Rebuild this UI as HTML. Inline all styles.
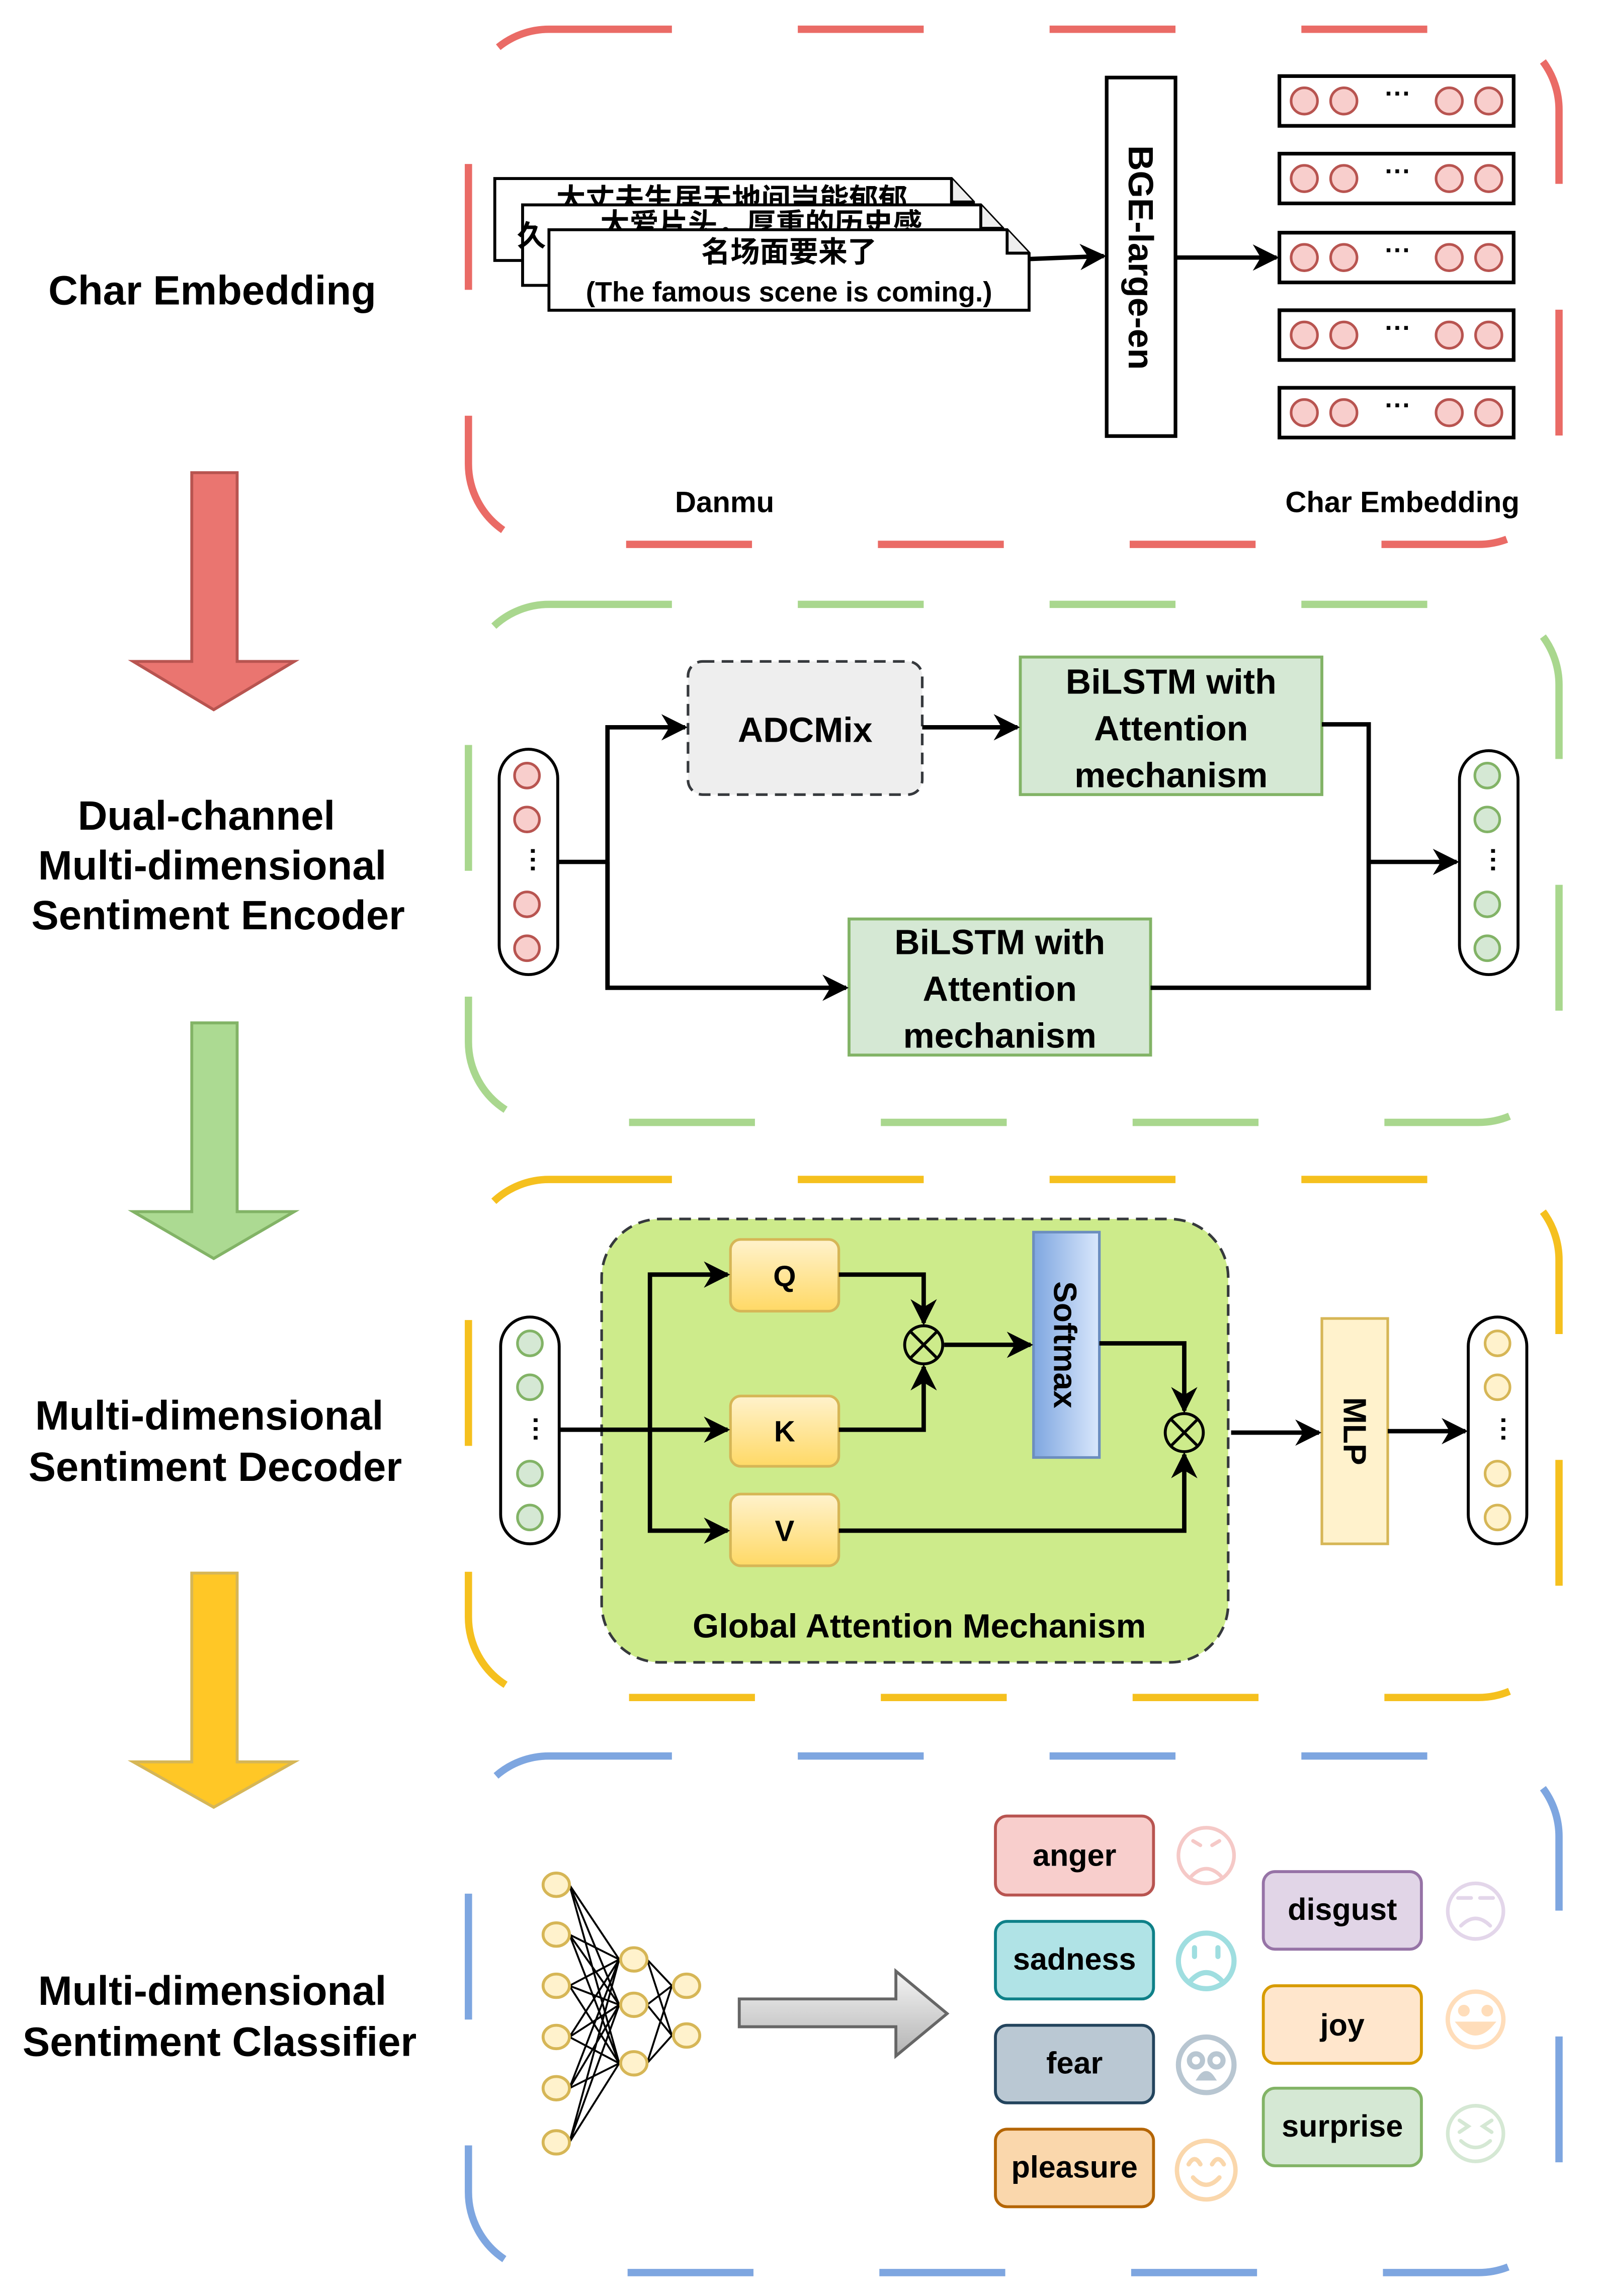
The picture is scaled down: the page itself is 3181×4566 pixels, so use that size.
<!DOCTYPE html>
<html><head><meta charset="utf-8"><style>
html,body{margin:0;padding:0;background:#fff;}
svg{display:block;}
text{font-family:"Liberation Sans","Noto Sans CJK SC",sans-serif;font-weight:bold;fill:#000;}
</style></head><body>
<svg width="3181" height="4566" viewBox="0 0 1093 1569" preserveAspectRatio="none" xmlns="http://www.w3.org/2000/svg">
<defs>
<marker id="ah" viewBox="0 0 10 10" refX="9" refY="5" markerWidth="6" markerHeight="6" orient="auto" markerUnits="strokeWidth"><path d="M0,0 L10,5 L0,10 L3,5 z" fill="#000"/></marker>
<marker id="ahs" viewBox="0 0 10 10" refX="9" refY="5" markerWidth="6" markerHeight="6" orient="auto" markerUnits="strokeWidth"><path d="M0,0 L10,5 L0,10 L3,5 z" fill="#000"/></marker>
<linearGradient id="qk" x1="0" y1="0" x2="0" y2="1"><stop offset="0" stop-color="#FFF2CC"/><stop offset="1" stop-color="#FFD966"/></linearGradient>
<linearGradient id="sm" x1="0" y1="0" x2="1" y2="0"><stop offset="0" stop-color="#7EA6E0"/><stop offset="1" stop-color="#DAE8FC"/></linearGradient>
<linearGradient id="ga" x1="0" y1="0" x2="0" y2="1"><stop offset="0" stop-color="#F5F5F5"/><stop offset="1" stop-color="#B3B3B3"/></linearGradient>
</defs>

<!-- section borders -->
<rect x="320" y="20" width="745" height="352" rx="55" fill="none" stroke="#EA6B66" stroke-width="5" stroke-dasharray="86 86" stroke-dashoffset="2"/>
<rect x="320" y="413" width="745" height="354" rx="55" fill="none" stroke="#A9D78E" stroke-width="5" stroke-dasharray="86 86" stroke-dashoffset="2"/>
<rect x="320" y="806" width="745" height="354" rx="55" fill="none" stroke="#F5C01E" stroke-width="5" stroke-dasharray="86 86" stroke-dashoffset="2"/>
<rect x="320" y="1200" width="745" height="353" rx="55" fill="none" stroke="#7EA6E0" stroke-width="5" stroke-dasharray="86 86" stroke-dashoffset="2"/>

<!-- left labels -->
<g font-size="28" text-anchor="middle">
<text x="145" y="208">Char Embedding</text>
<text x="141" y="567">Dual-channel</text>
<text x="145" y="601">Multi-dimensional</text>
<text x="149" y="635">Sentiment Encoder</text>
<text x="143" y="977">Multi-dimensional</text>
<text x="147" y="1012">Sentiment Decoder</text>
<text x="145" y="1370">Multi-dimensional</text>
<text x="150" y="1405">Sentiment Classifier</text>
</g>
<!-- big arrows -->
<path d="M131,323 H162 V452 H201 L146,485 L91,452 H131 Z" fill="#EA7570" stroke="#B85450" stroke-width="2"/>
<path d="M131,699 H162 V828 H201 L146,860 L91,828 H131 Z" fill="#ACDA92" stroke="#82B366" stroke-width="2"/>
<path d="M131,1075 H162 V1204 H201 L146,1235 L91,1204 H131 Z" fill="#FFC726" stroke="#D6B656" stroke-width="2"/>

<!-- Section 1 -->
<g stroke="#000" stroke-width="2" fill="#fff">
<path d="M338,122 H650 L665,138 V178 H338 Z"/><path d="M650,122 V138 H665" fill="#eee"/>
</g>
<text x="500" y="143" font-size="20" text-anchor="middle">大丈夫生居天地间岂能郁郁</text>
<g stroke="#000" stroke-width="2" fill="#fff">
<path d="M357,140 H670 L685,156 V195 H357 Z"/><path d="M670,140 V156 H685" fill="#eee"/>
</g>
<text x="353" y="168" font-size="20">久</text>
<text x="520" y="160" font-size="20" text-anchor="middle">大爱片头，厚重的历史感</text>
<g stroke="#000" stroke-width="2" fill="#fff">
<path d="M375,157 H688 L703,173 V212 H375 Z"/><path d="M688,157 V173 H703" fill="#eee"/>
</g>
<text x="539" y="179" font-size="20" text-anchor="middle">名场面要来了</text>
<text x="539" y="206" font-size="19" text-anchor="middle">(The famous scene is coming.)</text>
<line x1="703" y1="177" x2="754" y2="175" stroke="#000" stroke-width="3" marker-end="url(#ah)"/>
<rect x="756" y="53" width="47" height="245" fill="#fff" stroke="#000" stroke-width="2.5"/>
<text transform="translate(771,176) rotate(90)" font-size="24" text-anchor="middle">BGE-large-en</text>
<line x1="803" y1="176" x2="872" y2="176" stroke="#000" stroke-width="3" marker-end="url(#ah)"/>
<g id="emb">
<rect x="874" y="52" width="160" height="34" fill="#fff" stroke="#000" stroke-width="2.5"/>
<g fill="#F8CECC" stroke="#B85450" stroke-width="1.8"><circle cx="891" cy="69" r="9"/><circle cx="918" cy="69" r="9"/><circle cx="990" cy="69" r="9"/><circle cx="1017" cy="69" r="9"/></g>
<text x="955" y="70" font-size="18" text-anchor="middle">···</text>
</g>
<use href="#emb" y="53"/><use href="#emb" y="107"/><use href="#emb" y="160"/><use href="#emb" y="213"/>
<text x="495" y="350" font-size="20" text-anchor="middle">Danmu</text>
<text x="958" y="350" font-size="20" text-anchor="middle">Char Embedding</text>

<!-- Section 2 -->
<rect x="341" y="512" width="40" height="154" rx="20" fill="#fff" stroke="#000" stroke-width="2"/>
<g fill="#F8CECC" stroke="#B85450" stroke-width="1.8"><circle cx="360" cy="530" r="8.5"/><circle cx="360" cy="560" r="8.5"/><circle cx="360" cy="618" r="8.5"/><circle cx="360" cy="648" r="8.5"/></g>
<text x="360" y="590" font-size="18" text-anchor="middle" transform="rotate(90 360 588)">···</text>
<rect x="997" y="513" width="40" height="153" rx="20" fill="#fff" stroke="#000" stroke-width="2"/>
<g fill="#D5E8D4" stroke="#82B366" stroke-width="1.8"><circle cx="1016" cy="530" r="8.5"/><circle cx="1016" cy="560" r="8.5"/><circle cx="1016" cy="618" r="8.5"/><circle cx="1016" cy="648" r="8.5"/></g>
<text x="1016" y="590" font-size="18" text-anchor="middle" transform="rotate(90 1016 588)">···</text>
<rect x="470" y="452" width="160" height="91" rx="10" fill="#EEEEEE" stroke="#36393D" stroke-width="1.8" stroke-dasharray="8 5"/>
<text x="550" y="507" font-size="24" text-anchor="middle">ADCMix</text>
<rect x="697" y="449" width="206" height="94" fill="#D5E8D4" stroke="#82B366" stroke-width="2"/>
<g font-size="24" text-anchor="middle"><text x="800" y="474">BiLSTM with</text><text x="800" y="506">Attention</text><text x="800" y="538">mechanism</text></g>
<rect x="580" y="628" width="206" height="93" fill="#D5E8D4" stroke="#82B366" stroke-width="2"/>
<g font-size="24" text-anchor="middle"><text x="683" y="652">BiLSTM with</text><text x="683" y="684">Attention</text><text x="683" y="716">mechanism</text></g>
<g fill="none" stroke="#000" stroke-width="3">
<polyline points="381,589 415,589"/>
<polyline points="415,675 415,497 468,497" marker-end="url(#ah)"/>
<polyline points="415,589 415,675 578,675" marker-end="url(#ah)"/>
<polyline points="630,497 695,497" marker-end="url(#ah)"/>
<polyline points="903,495 935,495 935,675 786,675"/>
<polyline points="935,589 995,589" marker-end="url(#ah)"/>
</g>

<!-- Section 3 -->
<rect x="411" y="833" width="428" height="303" rx="40" fill="#CDEB8B" stroke="#36393D" stroke-width="1.8" stroke-dasharray="8 5"/>
<rect x="342" y="900" width="40" height="155" rx="20" fill="#fff" stroke="#000" stroke-width="2"/>
<g fill="#D5E8D4" stroke="#82B366" stroke-width="1.8"><circle cx="362" cy="918" r="8.5"/><circle cx="362" cy="948" r="8.5"/><circle cx="362" cy="1007" r="8.5"/><circle cx="362" cy="1037" r="8.5"/></g>
<text x="362" y="979" font-size="18" text-anchor="middle" transform="rotate(90 362 977)">···</text>
<rect x="1003" y="900" width="40" height="155" rx="20" fill="#fff" stroke="#000" stroke-width="2"/>
<g fill="#FFF2CC" stroke="#D6B656" stroke-width="1.8"><circle cx="1023" cy="918" r="8.5"/><circle cx="1023" cy="948" r="8.5"/><circle cx="1023" cy="1007" r="8.5"/><circle cx="1023" cy="1037" r="8.5"/></g>
<text x="1023" y="979" font-size="18" text-anchor="middle" transform="rotate(90 1023 977)">···</text>
<g fill="url(#qk)" stroke="#D6B656" stroke-width="1.8">
<rect x="499" y="847" width="74" height="49" rx="7"/><rect x="499" y="954" width="74" height="48" rx="7"/><rect x="499" y="1021" width="74" height="49" rx="7"/>
</g>
<g font-size="20" text-anchor="middle"><text x="536" y="879">Q</text><text x="536" y="985">K</text><text x="536" y="1053">V</text></g>
<rect x="706" y="842" width="45" height="154" fill="url(#sm)" stroke="#6C8EBF" stroke-width="1.8"/>
<text transform="translate(720,919) rotate(90)" font-size="22" text-anchor="middle">Softmax</text>
<rect x="903" y="901" width="45" height="154" fill="#FFF2CC" stroke="#D6B656" stroke-width="1.8"/>
<text transform="translate(918,978) rotate(90)" font-size="22" text-anchor="middle">MLP</text>
<g fill="none" stroke="#000" stroke-width="3">
<polyline points="382,977 497,977" marker-end="url(#ah)"/>
<polyline points="497,871 444,871 444,1046 497,1046" marker-end="url(#ah)"/>
<line x1="444" y1="871" x2="497" y2="871" marker-end="url(#ah)"/>
<polyline points="573,871 631,871 631,904" marker-end="url(#ahs)"/>
<polyline points="573,977 631,977 631,934" marker-end="url(#ahs)"/>
<line x1="645" y1="919" x2="704" y2="919" marker-end="url(#ah)"/>
<polyline points="751,918 809,918 809,964" marker-end="url(#ahs)"/>
<polyline points="573,1046 809,1046 809,994" marker-end="url(#ahs)"/>
<line x1="841" y1="979" x2="901" y2="979" marker-end="url(#ah)"/>
<line x1="948" y1="978" x2="1001" y2="978" marker-end="url(#ah)"/>
</g>
<g fill="none" stroke="#000" stroke-width="2">
<circle cx="631" cy="919" r="13"/><line x1="622" y1="910" x2="640" y2="928"/><line x1="640" y1="910" x2="622" y2="928"/>
<circle cx="809" cy="979" r="13"/><line x1="800" y1="970" x2="818" y2="988"/><line x1="818" y1="970" x2="800" y2="988"/>
</g>
<text x="628" y="1119" font-size="23" text-anchor="middle">Global Attention Mechanism</text>

<!-- Section 4 NN -->
<g stroke="#000" stroke-width="1.3">
<path d="M389,1288 L423,1339 M389,1288 L423,1370 M389,1288 L423,1410 M389,1322 L423,1339 M389,1322 L423,1370 M389,1322 L423,1410 M389,1357 L423,1339 M389,1357 L423,1370 M389,1357 L423,1410 M389,1392 L423,1339 M389,1392 L423,1370 M389,1392 L423,1410 M389,1427 L423,1339 M389,1427 L423,1370 M389,1427 L423,1410 M389,1464 L423,1339 M389,1464 L423,1370 M389,1464 L423,1410 M442,1339 L459,1357 M442,1339 L459,1391 M442,1370 L459,1357 M442,1370 L459,1391 M442,1410 L459,1357 M442,1410 L459,1391"/>
</g>
<g fill="#FFF2CC" stroke="#D6B656" stroke-width="2">
<ellipse cx="380" cy="1288" rx="9" ry="8"/><ellipse cx="380" cy="1322" rx="9" ry="8"/><ellipse cx="380" cy="1357" rx="9" ry="8"/><ellipse cx="380" cy="1392" rx="9" ry="8"/><ellipse cx="380" cy="1427" rx="9" ry="8"/><ellipse cx="380" cy="1464" rx="9" ry="8"/>
<ellipse cx="433" cy="1339" rx="9" ry="8"/><ellipse cx="433" cy="1370" rx="9" ry="8"/><ellipse cx="433" cy="1410" rx="9" ry="8"/>
<ellipse cx="469" cy="1357" rx="9" ry="8"/><ellipse cx="469" cy="1391" rx="9" ry="8"/>
</g>
<path d="M505,1366 H612 V1347 L647,1376 L612,1405 V1385 H505 Z" fill="url(#ga)" stroke="#666" stroke-width="2"/>

<!-- emotion boxes -->
<g stroke-width="2">
<rect x="680" y="1241" width="108" height="54" rx="8" fill="#F8CECC" stroke="#B85450"/>
<rect x="680" y="1313" width="108" height="53" rx="8" fill="#B0E3E6" stroke="#0E8088"/>
<rect x="680" y="1384" width="108" height="53" rx="8" fill="#BAC8D3" stroke="#23445D"/>
<rect x="680" y="1455" width="108" height="53" rx="8" fill="#FAD7AC" stroke="#B46504"/>
<rect x="863" y="1279" width="108" height="53" rx="8" fill="#E1D5E7" stroke="#9673A6"/>
<rect x="863" y="1357" width="108" height="53" rx="8" fill="#FFE6CC" stroke="#D79B00"/>
<rect x="863" y="1427" width="108" height="53" rx="8" fill="#D5E8D4" stroke="#82B366"/>
</g>
<g font-size="21" text-anchor="middle">
<text x="734" y="1275">anger</text><text x="734" y="1346">sadness</text><text x="734" y="1417">fear</text><text x="734" y="1488">pleasure</text>
<text x="917" y="1312">disgust</text><text x="917" y="1391">joy</text><text x="917" y="1460">surprise</text>
</g>
<!-- faces -->
<g fill="none" stroke-width="2.5" stroke-linecap="round">
<g stroke="#F5C9C7"><circle cx="824" cy="1268" r="19"/><path d="M814,1282 Q824,1272 834,1282 M815,1258 L820,1261 M833,1258 L828,1261"/></g>
<g stroke="#9FDEE0" stroke-width="3.5"><circle cx="824" cy="1340" r="19"/><path d="M813,1354 Q824,1342 835,1354 M816,1331 V1337 M832,1331 V1337"/></g>
<g stroke="#B8C6D1" stroke-width="3.5"><circle cx="824" cy="1411" r="19"/><circle cx="817" cy="1408" r="4.5"/><circle cx="831" cy="1408" r="4.5"/><path d="M820,1420 Q824,1414 828,1420 Z"/></g>
<g stroke="#FAD7AC" stroke-width="3"><circle cx="824" cy="1483" r="20"/><path d="M812,1479 Q816,1472 820,1479 M828,1479 Q832,1472 836,1479 M815,1488 Q824,1498 833,1488"/></g>
<g stroke="#E3D6EA"><circle cx="1008" cy="1306" r="19"/><path d="M996,1297 H1005 M1011,1297 H1020 M998,1316 Q1008,1306 1018,1316"/></g>
<g stroke="#FFDDBA" stroke-width="3"><circle cx="1008" cy="1380" r="19"/><circle cx="1000" cy="1374" r="2.5" fill="#FFDDBA"/><circle cx="1016" cy="1374" r="2.5" fill="#FFDDBA"/><path d="M997,1383 H1019 Q1008,1396 997,1383 Z" fill="#FFDDBA"/></g>
<g stroke="#D5E8D4"><circle cx="1008" cy="1458" r="19"/><path d="M997,1449 L1003,1453 L997,1457 M1019,1449 L1013,1453 L1019,1457 M998,1463 Q1008,1472 1018,1463"/></g>
</g>
</svg>
</body></html>
